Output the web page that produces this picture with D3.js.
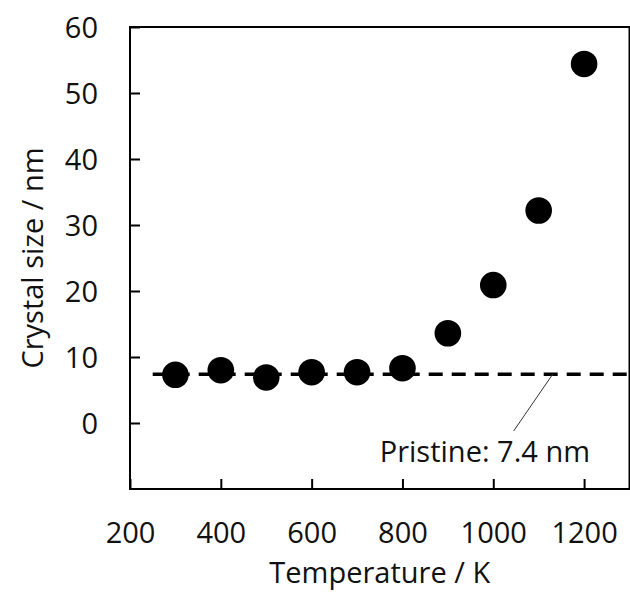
<!DOCTYPE html>
<html>
<head>
<meta charset="utf-8">
<script src="https://cdn.jsdelivr.net/npm/d3@7"></script>
<style>
  body { margin: 0; background: #fff; }
  svg { display: block; font-family: "Open Sans", sans-serif; }
</style>
</head>
<body>
<div id="chart"></div>
<script>
// Data
const temperatures = [300, 400, 500, 600, 700, 800, 900, 1000, 1100, 1200];
const crystalSizes = [7.3, 8.0, 6.9, 7.7, 7.7, 8.3, 13.6, 20.9, 32.2, 54.4];
const xTicks = [200, 400, 600, 800, 1000, 1200];
const yTicks = [0, 10, 20, 30, 40, 50, 60];
const pristineSize = 7.4;
const pristineRange = [250, 1300];
const pristineLabel = "Pristine: 7.4 nm";
// leader line from the dashed line down to the label, in data units
const leaderX = [1131, 1045];
const leaderY = [7.4, -1.2];
const labelPos = [750, -5.9];

const width = 630;
const height = 598;
const plot = { left: 130, right: 629.5, top: 27, bottom: 489 };

const svg = d3
    .select("#chart")
    .append("svg")
    .attr("width", width)
    .attr("height", height);

// Scales
const xScale = d3.scaleLinear().domain([200, 1300]).range([plot.left, plot.right]);
const yScale = d3.scaleLinear().domain([-10, 60]).range([plot.bottom, plot.top]);

// Axes with inward ticks
const xAxis = d3.axisBottom(xScale)
    .tickValues(xTicks)
    .tickSize(-10)
    .tickPadding(33.5)
    .tickFormat(d3.format("d"));

const yAxis = d3.axisLeft(yScale)
    .tickValues(yTicks)
    .tickSize(-10)
    .tickPadding(32)
    .tickFormat(d3.format("d"));

const gx = svg.append("g")
    .attr("transform", `translate(0,${plot.bottom})`)
    .call(xAxis);

const gy = svg.append("g")
    .attr("transform", `translate(${plot.left},0)`)
    .call(yAxis);

[gx, gy].forEach(function (g) {
    g.attr("font-family", null).attr("font-size", null);
    g.select(".domain").remove();
    g.selectAll(".tick line").attr("stroke", "#000").attr("stroke-width", 2);
    g.selectAll(".tick text")
        .attr("fill", "#111")
        .style("font-size", "29px");
});
gy.selectAll(".tick text").attr("dy", "0.36em");

// Frame around the plot area
svg.append("rect")
    .attr("x", plot.left)
    .attr("y", plot.top)
    .attr("width", plot.right - plot.left)
    .attr("height", plot.bottom - plot.top)
    .attr("fill", "none")
    .attr("stroke", "#000")
    .attr("stroke-width", 2);

// Pristine reference line (dashed)
svg.append("line")
    .attr("x1", xScale(pristineRange[0]))
    .attr("x2", xScale(pristineRange[1]))
    .attr("y1", yScale(pristineSize))
    .attr("y2", yScale(pristineSize))
    .attr("stroke", "#000")
    .attr("stroke-width", 3.5)
    .attr("stroke-dasharray", "14,9");

// Leader line and label
svg.append("line")
    .attr("x1", xScale(leaderX[0]))
    .attr("y1", yScale(leaderY[0]))
    .attr("x2", xScale(leaderX[1]))
    .attr("y2", yScale(leaderY[1]))
    .attr("stroke", "#333")
    .attr("stroke-width", 1);

svg.append("text")
    .attr("x", xScale(labelPos[0]))
    .attr("y", yScale(labelPos[1]))
    .attr("fill", "#111")
    .style("font-size", "29px")
    .text(pristineLabel);

// Data points
svg.append("g")
    .selectAll("circle")
    .data(temperatures)
    .join("circle")
    .attr("cx", (d) => xScale(d))
    .attr("cy", (d, i) => yScale(crystalSizes[i]))
    .attr("r", 13.3)
    .attr("fill", "#000");

// Axis titles
svg.append("text")
    .attr("x", (plot.left + plot.right) / 2)
    .attr("y", 583)
    .attr("text-anchor", "middle")
    .attr("fill", "#111")
    .style("font-size", "29px")
    .text("Temperature / K");

svg.append("text")
    .attr("transform", `translate(43,${(plot.top + plot.bottom) / 2}) rotate(-90)`)
    .attr("text-anchor", "middle")
    .attr("fill", "#111")
    .style("font-size", "29px")
    .text("Crystal size / nm");
</script>
</body>
</html>
